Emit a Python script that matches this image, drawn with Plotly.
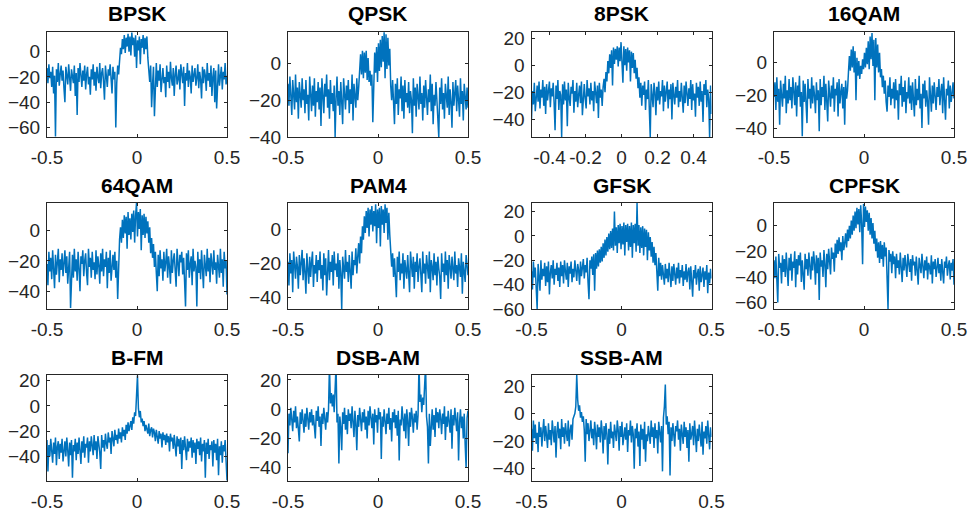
import numpy as np
import plotly.graph_objects as go

# ---------------- data (power spectra in dB, normalized frequency) ----------------
titles = ["BPSK", "QPSK", "8PSK", "16QAM", "64QAM", "PAM4", "GFSK", "CPFSK",
          "B-FM", "DSB-AM", "SSB-AM"]

bpsk = [-13,-25,-10,-21,-16,-28,-12,-33,-19,-67,-14,-24,-9,-27,-18,-11,
        -23,-15,-29,-40,-12,-20,-26,-10,-22,-31,-14,-19,-25,-11,-35,-17,
        -50,-13,-24,-9,-21,-28,-15,-23,-11,-30,-18,-12,-26,-20,-34,-14,
        -22,-10,-27,-16,-31,-12,-20,-25,-9,-29,-17,-13,-24,-38,-11,-21,
        -28,-14,-19,-10,-26,-33,-12,-22,-16,-60,-25,-11,-18,-6,3,-2,
        10,2,13,-1,11,4,14,0,12,-3,15,5,11,-4,13,-13,
        9,1,12,-10,10,3,13,-2,11,2,12,-5,-14,-24,-11,-44,
        -26,-12,-51,-19,-9,-28,-15,-23,-10,-32,-17,-13,-25,-20,-36,-11,
        -24,-16,-29,-8,-21,-27,-13,-35,-18,-11,-26,-22,-14,-30,-10,-19,
        -25,-12,-43,-17,-23,-9,-28,-15,-20,-33,-11,-24,-18,-13,-27,-21,
        -10,-29,-16,-22,-37,-12,-25,-14,-19,-31,-9,-23,-17,-28,-11,-35,
        -20,-13,-40,-15,-45,-24,-10,-27,-18,-12,-30,-16,-22,-9,-26,-19]

qpsk = [-11,-23,-7,-19,-28,-9,-16,-25,-6,-21,-13,-30,-10,-18,-24,-8,
        -20,-14,-27,-9,-22,-17,-31,-7,-19,-26,-12,-23,-8,-29,-15,-21,
        -10,-25,-13,-34,-8,-20,-27,-11,-18,-6,-24,-14,-30,-9,-22,-16,
        -26,-12,-40,-19,-7,-23,-15,-28,-10,-21,-33,-8,-17,-25,-12,-20,
        -9,-27,-14,-22,-6,-31,-11,-18,-24,-8,-20,-13,-4,5,-6,7,
        -8,6,-5,7,-9,3,-10,-4,-12,-6,-32,-3,6,-5,9,-10,
        11,-4,13,-2,15,1,17,-8,16,-3,14,-1,8,-12,-20,-9,
        -25,-33,-11,-22,-8,-28,-14,-19,-7,-26,-12,-30,-9,-21,-16,-24,
        -10,-27,-15,-20,-38,-8,-23,-13,-29,-11,-18,-25,-7,-22,-16,-31,
        -12,-24,-9,-19,-28,-14,-21,-6,-26,-11,-33,-17,-23,-10,-20,-27,
        -40,-13,-22,-8,-25,-16,-30,-11,-19,-24,-7,-28,-14,-21,-35,-10,
        -23,-17,-9,-26,-12,-20,-29,-8,-22,-15,-31,-11,-19,-25,-13,-24]

psk8 = [-40,-19,-29,-13,-34,-21,-15,-27,-12,-32,-18,-24,-11,-30,-16,-36,
        -14,-26,-20,-12,-31,-17,-23,-13,-28,-48,-15,-25,-11,-33,-19,-22,
        -53,-14,-29,-12,-26,-18,-45,-13,-24,-30,-16,-21,-11,-35,-19,-27,
        -13,-31,-22,-15,-28,-12,-37,-20,-14,-25,-32,-11,-23,-17,-29,-13,
        -26,-19,-34,-12,-22,-28,-15,-39,-13,-24,-18,-30,-16,-10,-20,-5,
        -12,3,-6,8,-2,11,-15,13,1,12,4,14,-1,13,3,17,
        2,-13,14,0,12,-4,13,2,11,-12,10,-2,9,-6,4,-10,
        -2,-17,-9,-24,-13,-30,-15,-22,-12,-33,-18,-25,-11,-28,-53,-14,
        -24,-31,-13,-20,-37,-16,-26,-12,-29,-19,-23,-11,-34,-15,-27,-21,
        -12,-32,-18,-25,-14,-40,-13,-22,-29,-16,-24,-11,-31,-19,-27,-13,
        -23,-35,-15,-28,-12,-20,-30,-17,-25,-11,-33,-14,-26,-21,-38,-13,
        -24,-16,-30,-12,-27,-19,-42,-14,-22,-11,-31,-18,-25,-53,-15,-36]

qam16 = [-21,-12,-29,-9,-24,-16,-38,-11,-20,-27,-13,-22,-8,-31,-17,-25,
         -10,-23,-15,-28,-9,-19,-26,-12,-33,-14,-21,-8,-27,-18,-45,-11,
         -24,-13,-30,-37,-10,-22,-16,-28,-9,-25,-14,-20,-31,-12,-23,-17,
         -42,-10,-26,-15,-21,-8,-29,-13,-24,-36,-11,-19,-27,-14,-22,-9,
         -30,-16,-20,-12,-33,-10,-25,-18,-13,-28,-15,-38,-11,-22,-17,-6,
         4,-5,8,-3,10,-6,7,-23,3,-8,1,-10,-2,-7,2,-4,
         6,-3,9,-1,13,-4,16,2,18,-2,14,-23,15,-3,11,-6,
         6,-9,-4,-15,-8,-19,-11,-24,-30,-14,-21,-9,-26,-16,-22,-12,
         -28,-10,-23,-17,-35,-13,-20,-8,-27,-15,-24,-11,-31,-18,-22,-9,
         -25,-14,-29,-12,-21,-33,-10,-26,-16,-23,-8,-28,-19,-40,-13,-22,
         -11,-27,-17,-24,-38,-9,-20,-30,-14,-25,-12,-22,-29,-15,-21,-10,
         -26,-18,-13,-31,-9,-23,-35,-16,-20,-11,-28,-14,-24,-19,-12,-22]

qam64 = [-22,-36,-14,-27,-18,-32,-13,-25,-38,-16,-29,-21,-12,-34,-19,-26,
         -15,-30,-23,-13,-28,-17,-35,-20,-14,-51,-24,-16,-31,-12,-27,-19,
         -33,-14,-25,-40,-17,-22,-13,-30,-20,-15,-28,-36,-12,-24,-18,-31,
         -14,-26,-21,-32,-13,-29,-17,-23,-35,-15,-27,-12,-30,-19,-24,-14,
         -38,-18,-28,-13,-33,-21,-16,-26,-14,-31,-20,-45,-16,-6,2,-8,
         7,-5,10,-2,9,-12,12,-3,8,-6,11,-1,13,-8,10,18,
         -4,12,1,14,-13,10,-3,11,-5,9,-2,6,-8,2,-15,-5,
         -18,-9,-24,-14,-28,-40,-16,-30,-13,-25,-19,-33,-14,-27,-21,-12,
         -31,-17,-24,-35,-13,-28,-20,-15,-26,-37,-12,-23,-30,-16,-21,-14,
         -29,-18,-33,-50,-15,-26,-13,-31,-22,-17,-36,-12,-27,-20,-24,-50,
         -14,-28,-19,-32,-13,-25,-38,-16,-22,-30,-12,-27,-18,-34,-15,-23,
         -29,-13,-26,-21,-35,-16,-24,-31,-12,-28,-19,-37,-14,-25,-20,-42]

pam4 = [-19,-33,-14,-26,-18,-37,-13,-24,-29,-16,-22,-35,-15,-27,-20,-12,
        -30,-17,-25,-38,-14,-23,-32,-16,-28,-19,-13,-34,-21,-26,-15,-31,
        -18,-24,-13,-29,-21,-36,-14,-27,-17,-39,-22,-12,-30,-19,-25,-15,
        -33,-13,-24,-20,-28,-14,-35,-18,-26,-47,-16,-22,-29,-12,-25,-19,
        -31,-15,-23,-35,-13,-27,-18,-21,-11,-26,-16,-8,-20,-4,-14,2,
        -6,8,-2,11,1,13,-4,12,3,14,-1,11,2,15,-8,12,
        1,13,-10,14,3,12,-2,15,4,13,-6,10,-3,-15,-22,-14,
        -28,-17,-33,-40,-16,-25,-13,-30,-20,-26,-14,-35,-18,-23,-29,-15,
        -24,-37,-13,-21,-28,-16,-35,-19,-25,-14,-31,-22,-17,-27,-37,-13,
        -26,-20,-32,-15,-24,-29,-13,-37,-18,-22,-30,-14,-27,-19,-33,-16,
        -23,-28,-41,-14,-25,-20,-31,-13,-27,-18,-35,-15,-22,-29,-16,-24,
        -30,-13,-26,-21,-34,-17,-23,-28,-14,-38,-19,-25,-31,-15,-22,-27]

gfsk = [-29,-44,-21,-34,-26,-39,-60,-23,-31,-45,-20,-36,-27,-33,-22,-41,
        -25,-38,-21,-48,-30,-24,-35,-20,-40,-27,-32,-22,-37,-26,-42,-21,
        -33,-24,-39,-20,-29,-36,-22,-42,-25,-31,-21,-38,-27,-34,-20,-30,
        -37,-23,-28,-40,-21,-33,-26,-19,-35,-24,-30,-18,-38,-52,-20,-27,
        -17,-32,-15,-45,-14,-27,-12,-25,-11,-22,-9,-21,-6,-18,-3,-16,
        -1,-13,2,-11,4,-10,6,-12,20,-8,7,-14,9,-6,10,-11,
        8,-7,11,-16,9,-5,10,-12,8,-9,11,-18,9,-6,10,-13,
        27,-8,9,-14,7,-10,8,-16,6,-9,5,-20,3,-12,-1,-17,
        -5,-22,-9,-24,-14,-30,-45,-18,-33,-22,-36,-24,-31,-40,-23,-35,
        -27,-38,-22,-33,-42,-25,-37,-23,-31,-40,-26,-35,-22,-39,-28,-34,
        -24,-41,-29,-36,-23,-38,-30,-26,-44,-25,-37,-50,-28,-35,-24,-40,
        -31,-27,-45,-25,-38,-33,-26,-42,-29,-36,-24,-47,-30,-39,-27,-35]

cpfsk = [-27,-41,-24,-37,-60,-22,-33,-29,-45,-23,-36,-26,-40,-21,-31,-47,
         -25,-35,-22,-43,-28,-33,-20,-48,-26,-38,-23,-31,-21,-44,-27,-36,
         -50,-22,-34,-26,-39,-21,-30,-42,-24,-35,-20,-29,-46,-23,-37,-25,
         -58,-21,-32,-27,-40,-19,-30,-48,-22,-34,-18,-28,-38,-17,-26,-21,
         -36,-14,-25,-11,-22,-9,-20,-13,-27,-8,-19,-14,-6,-17,-3,-12,
         0,-10,4,-7,8,-4,11,-2,14,1,13,-5,16,2,-30,17,
         -1,15,3,12,-4,10,-7,6,-10,2,-14,-4,-20,-10,-25,-13,
         -29,-12,-26,-15,-32,-13,-24,-17,-35,-65,-19,-28,-22,-37,-20,-30,
         -24,-41,-22,-33,-27,-38,-21,-30,-44,-25,-35,-23,-32,-40,-22,-29,
         -36,-26,-43,-23,-31,-28,-39,-24,-34,-46,-25,-30,-37,-22,-33,-41,
         -27,-35,-24,-42,-29,-32,-38,-23,-45,-28,-34,-26,-40,-31,-25,-37,
         -30,-43,-26,-36,-45,-28,-33,-24,-39,-31,-27,-42,-29,-35,-26,-46]

bfm = [-27,-52,-31,-40,-26,-36,-45,-29,-38,-25,-47,-32,-28,-42,-30,-37,
       -26,-44,-33,-28,-40,-25,-35,-48,-29,-39,-27,-57,-31,-36,-26,-43,
       -29,-38,-25,-34,-46,-28,-37,-24,-41,-30,-33,-25,-45,-28,-36,-24,
       -32,-39,-23,-35,-28,-42,-24,-31,-37,-50,-23,-33,-27,-36,-22,-30,
       -34,-21,-29,-25,-38,-20,-28,-32,-19,-27,-23,-30,-18,-26,-21,-29,
       -17,-24,-19,-27,-15,-22,-13,-20,-16,-12,-19,-9,-14,-5,-8,15,
       24,-2,-9,-4,-13,-10,-16,-12,-20,-15,-18,-22,-14,-24,-19,-17,
       -25,-18,-21,-28,-19,-24,-30,-20,-26,-22,-33,-21,-27,-23,-31,-22,
       -29,-24,-36,-22,-28,-25,-34,-23,-30,-40,-24,-32,-26,-38,-25,-50,
       -27,-35,-24,-31,-43,-26,-36,-28,-33,-25,-41,-27,-37,-29,-46,-26,
       -34,-28,-39,-25,-44,-30,-36,-27,-57,-29,-38,-26,-42,-31,-35,-28,
       -48,-27,-37,-30,-43,-26,-55,-32,-39,-28,-45,-31,-36,-27,-41,-59]

dsbam = [-30,-3,-11,1,-7,-15,-1,-9,2,-13,-5,-19,-22,-2,-10,0,
         -8,-16,-3,-12,1,-6,-14,-2,-9,0,-11,-4,-17,-20,-1,-8,
         2,-12,-5,-25,-3,-10,1,-7,-14,-2,-9,0,30,4,11,2,
         10,-2,8,30,-9,-3,-37,-5,-12,-28,-2,-10,1,-14,-4,-17,
         0,-8,-3,-13,2,-6,-19,-1,-10,-28,-4,-12,1,-7,-15,-2,
         -9,0,-14,-5,-20,-1,-11,2,-6,-13,-3,-24,0,-9,-4,-16,
         1,-7,-2,-34,-5,-12,0,-8,-17,-3,-10,1,-14,-6,-22,-2,
         -9,0,-13,-4,-18,-1,-35,-7,-11,2,-5,-15,-3,-20,0,-8,
         -25,-2,-12,1,-6,-16,-3,-9,-1,-14,-4,30,5,10,-2,8,
         3,11,30,-5,-12,-37,-3,-25,-8,0,-14,-4,-19,1,-9,-2,
         -13,0,-6,-17,-3,-10,2,-21,-5,-12,-1,-8,-16,0,-27,-4,
         -11,1,-7,-15,-2,-35,-9,0,-13,-5,-20,-3,-24,-40,-6,-1]

ssbam = [-11,-27,-5,-18,-8,-22,-14,-28,-6,-17,-10,-24,-13,-4,-20,-9,
         -16,-25,-7,-19,-12,-23,-5,-15,-21,-9,-32,-13,-6,-18,-11,-26,
         -4,-17,-10,-22,-7,-14,-20,-5,-24,-12,-8,-19,-4,-2,0,5,
         28,10,2,6,-3,1,-6,-2,-12,-35,-4,-15,-7,-20,-9,-5,
         -18,-11,-23,-6,-14,-26,-8,-17,-10,-21,-5,-13,-29,-9,-19,-7,
         -15,-37,-11,-22,-6,-18,-13,-25,-8,-16,-20,-5,-12,-27,-9,-17,
         -6,-23,-14,-10,-19,-7,-28,-12,-16,-5,-21,-9,-15,-40,-11,-18,
         -7,-24,-13,-38,-8,-19,-11,-26,-6,-35,-15,-20,-9,-14,-22,-5,
         -17,-10,-25,-7,-18,-12,-29,-6,-15,-21,-9,-42,-3,5,21,-8,
         -2,-15,-6,-45,-10,-20,-7,-16,-24,-9,-13,-5,-19,-11,-27,-8,
         -14,-22,-6,-17,-10,-25,-12,-35,-7,-19,-15,-9,-23,-5,-16,-28,
         -11,-20,-8,-14,-24,-6,-30,-13,-18,-9,-22,-5,-15,-26,-10,-17]

spectra = [bpsk, qpsk, psk8, qam16, qam64, pam4, gfsk, cpfsk, bfm, dsbam, ssbam]

# y-axis limits and ticks
y_limits = [[-67.5, 15.5], [-40, 17.2], [-53, 24.5], [-45.5, 18.7],
            [-51.6, 18], [-47, 15.8], [-60, 27], [-65, 17.7],
            [-59.5, 24.5], [-49, 23.4], [-49, 28]]
y_ticks = [[-60, -40, -20, 0], [-40, -20, 0], [-40, -20, 0, 20], [-40, -20, 0],
           [-40, -20, 0], [-40, -20, 0], [-60, -40, -20, 0, 20], [-60, -40, -20, 0],
           [-40, -20, 0, 20], [-40, -20, 0, 20], [-40, -20, 0, 20]]
x_ticks_default = [-0.5, 0, 0.5]
x_ticks_8psk = [-0.4, -0.2, 0, 0.2, 0.4]

# ---------------- layout geometry (page pixels) ----------------
W, H = 972, 518
col_px = [(47, 227), (288, 468), (531.5, 711.5), (774, 954)]
row_px = [(32, 137), (203, 309), (375, 481)]

def fx(px):
    return px / W

def fy(py):
    return 1 - py / H

FONT = "Liberation Sans, Arial, Helvetica, sans-serif"
AX_COLOR = "#262626"
LINE_COLOR = "#0072BD"

fig = go.Figure()
layout = dict(
    width=W, height=H, margin=dict(l=0, r=0, t=0, b=0, autoexpand=False),
    paper_bgcolor="white", plot_bgcolor="white", showlegend=False,
    font=dict(family=FONT, size=19, color=AX_COLOR),
)
annotations = []

for k, (name, vals) in enumerate(zip(titles, spectra)):
    r, c = divmod(k, 4)
    n = k + 1
    xs = "x" if n == 1 else f"x{n}"
    ys = "y" if n == 1 else f"y{n}"
    freq = np.linspace(-0.5, 0.5, len(vals))
    fig.add_trace(go.Scatter(x=freq, y=vals, mode="lines",
                             line=dict(color=LINE_COLOR, width=1.5),
                             xaxis=xs, yaxis=ys, hoverinfo="skip"))
    x0, x1 = col_px[c]
    y0, y1 = row_px[r]
    xt = x_ticks_8psk if name == "8PSK" else x_ticks_default
    layout["xaxis" if n == 1 else f"xaxis{n}"] = dict(
        domain=[fx(x0), fx(x1)], anchor=ys, range=[-0.5, 0.5],
        tickmode="array", tickvals=xt, ticktext=[f"{v:g}" for v in xt],
        showline=True, linecolor=AX_COLOR, linewidth=1, mirror="allticks",
        ticks="inside", ticklen=3, tickcolor=AX_COLOR, tickwidth=1,
        showgrid=False, zeroline=False, ticklabelstandoff=3, tickangle=0,
        automargin=False,
        tickfont=dict(family=FONT, size=19, color=AX_COLOR),
    )
    layout["yaxis" if n == 1 else f"yaxis{n}"] = dict(
        domain=[fy(y1), fy(y0)], anchor=xs, range=y_limits[k],
        tickmode="array", tickvals=y_ticks[k],
        showline=True, linecolor=AX_COLOR, linewidth=1, mirror="allticks",
        ticks="inside", ticklen=3, tickcolor=AX_COLOR, tickwidth=1,
        showgrid=False, zeroline=False, ticklabelstandoff=2, tickangle=0,
        automargin=False,
        tickfont=dict(family=FONT, size=19, color=AX_COLOR),
    )
    annotations.append(dict(
        text=f"<b>{name}</b>", xref="paper", yref="paper",
        x=fx((x0 + x1) / 2), y=fy(y0 - 18),
        xanchor="center", yanchor="middle", showarrow=False,
        font=dict(family=FONT, size=21, color="black"),
    ))

layout["annotations"] = annotations
fig.update_layout(**layout)
fig.write_html(
    "out.html",
    config={"displayModeBar": False, "staticPlot": True},
    post_script="document.body.style.margin='0px';document.body.style.overflow='hidden';",
)
